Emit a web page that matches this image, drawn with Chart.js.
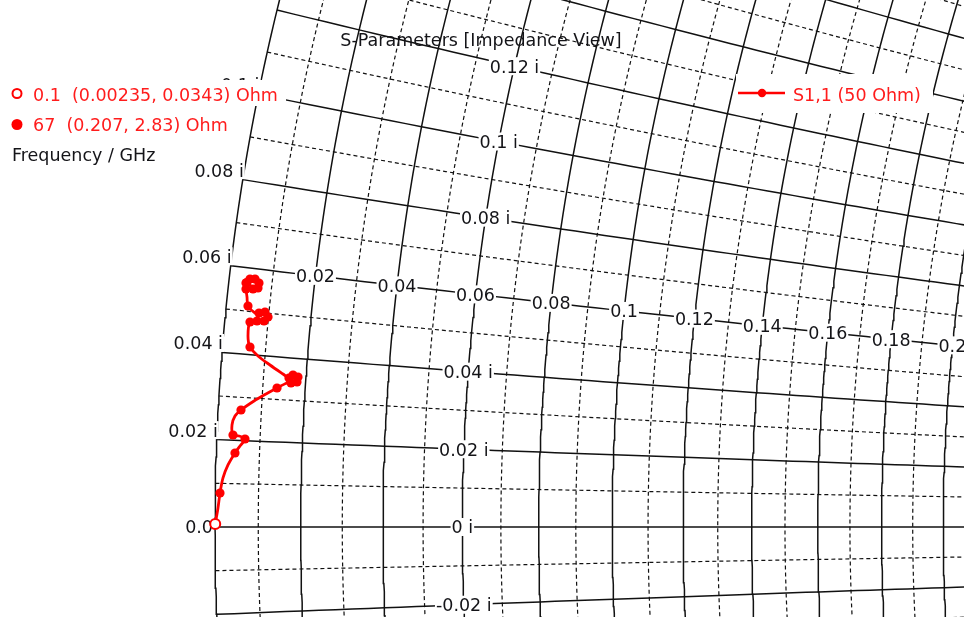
<!DOCTYPE html>
<html>
<head>
<meta charset="utf-8">
<script src="https://cdn.jsdelivr.net/npm/chart.js@4.4.1/dist/chart.umd.min.js"></script>
<style>
  html, body { margin: 0; padding: 0; background: #fff; }
</style>
</head>
<body>
<canvas id="smith" width="964" height="617"></canvas>
<script>
// visible window of the reflection coefficient plane (zoomed on the short circuit point)
const gammaReMin = -1.0984, gammaReMax = -0.6572
const gammaImMin = -0.0412, gammaImMax = 0.2412

// Smith grid, normalised to 50 Ohm
const resistanceMajor = [0, 0.02, 0.04, 0.06, 0.08, 0.1, 0.12, 0.14, 0.16, 0.18, 0.2]
const resistanceMinor = [0.01, 0.03, 0.05, 0.07, 0.09, 0.11, 0.13, 0.15, 0.17, 0.19]
const reactanceMajor = [-0.04, -0.02, 0, 0.02, 0.04, 0.06, 0.08, 0.1, 0.12, 0.14, 0.16, 0.18, 0.2]
const reactanceMinor = [-0.03, -0.01, 0.01, 0.03, 0.05, 0.07, 0.09, 0.11, 0.13, 0.15, 0.17, 0.19]

// labels: resistance values sit on the x = 0.06 arc, reactance values on the r = 0.06 circle
const resistanceLabels = [0.02, 0.04, 0.06, 0.08, 0.1, 0.12, 0.14, 0.16, 0.18, 0.2]
const reactanceLabels = [-0.02, 0, 0.02, 0.04, 0.08, 0.1, 0.12]
const edgeLabels = [0, 0.02, 0.04, 0.06, 0.08, 0.1]
const labelArc = 0.06

// S1,1 trace (reflection coefficient, real / imaginary), 0.1 .. 67 GHz
const s11Re = [-0.99990, -0.99863, -0.99771, -0.99634, -0.99405, -0.99085, -0.98856, -0.98627, -0.98902, -0.99176,
  -0.99222, -0.99085, -0.98810, -0.98215, -0.97666, -0.97162, -0.96705, -0.96522, -0.96247, -0.96201,
  -0.96430, -0.96613, -0.96888, -0.97483, -0.98032, -0.98398, -0.98490, -0.98398, -0.98078, -0.97757,
  -0.97574, -0.97712, -0.97986, -0.98169, -0.98490, -0.98535, -0.98581, -0.98581, -0.98398, -0.98169,
  -0.97986, -0.98032, -0.98261, -0.98398, -0.98545]
const s11Im = [0.00137, 0.00870, 0.01556, 0.02243, 0.02838, 0.03387, 0.03707, 0.04027, 0.04165, 0.04211,
  0.04668, 0.05080, 0.05355, 0.05767, 0.06087, 0.06362, 0.06590, 0.06590, 0.06636, 0.06865,
  0.06957, 0.06819, 0.07002, 0.07414, 0.07826, 0.08238, 0.08742, 0.09382, 0.09428, 0.09428,
  0.09611, 0.09840, 0.09794, 0.09794, 0.10115, 0.10526, 0.10893, 0.11167, 0.11350, 0.11350,
  0.11167, 0.10938, 0.10893, 0.11076, 0.11191]
// samples that carry a round marker
const markerIdx = [2, 5, 7, 9, 12, 15, 17, 18, 19, 20, 21, 25, 27, 28, 29, 30, 31, 32, 34, 36, 37, 38, 39, 40, 41, 42, 44]

const startLabel = '0.1  (0.00235, 0.0343) Ohm'
const endLabel = '67  (0.207, 2.83) Ohm'
const xUnit = 'Frequency / GHz'
const seriesName = 'S1,1 (50 Ohm)'
const chartTitle = 'S-Parameters [Impedance View]'

const FONT = '17.5px "DejaVu Sans", Verdana, sans-serif'
const INK = '#141418'
const RED = '#ff0000'
const GRID = '#111111'

function gamma(r, x) {
  const d = (r + 1) * (r + 1) + x * x
  return { x: (r * r + x * x - 1) / d, y: 2 * x / d }
}

function resistanceCircle(r) {
  const pts = []
  for (let t = -0.1; t <= 0.32; t += 0.002) pts.push(gamma(r, t))
  return pts
}

function reactanceArc(x) {
  const pts = []
  for (let t = 0; t <= 0.4; t += 0.004) pts.push(gamma(t, x))
  return pts
}

// Chart.js paints higher "order" first, so the grid gets the highest one
function gridSet(points, major) {
  return {
    data: points,
    order: 10,
    showLine: true,
    pointRadius: 0,
    borderColor: GRID,
    borderWidth: major ? 1.5 : 1.2,
    borderDash: major ? [] : [4, 3],
    tension: 0
  }
}

const datasets = []
resistanceMajor.forEach(r => datasets.push(gridSet(resistanceCircle(r), true)))
resistanceMinor.forEach(r => datasets.push(gridSet(resistanceCircle(r), false)))
reactanceMajor.forEach(x => datasets.push(gridSet(reactanceArc(x), true)))
reactanceMinor.forEach(x => datasets.push(gridSet(reactanceArc(x), false)))
const traceIndex = datasets.length

datasets.push({
  data: s11Re.map((re, i) => ({ x: re, y: s11Im[i] })),
  order: 3,
  showLine: true,
  pointRadius: 0,
  borderColor: RED,
  borderWidth: 2.8,
  tension: 0.3
})
datasets.push({
  data: markerIdx.map(i => ({ x: s11Re[i], y: s11Im[i] })),
  order: 2,
  showLine: false,
  pointRadius: 4.6,
  pointBackgroundColor: RED,
  pointBorderColor: RED,
  pointBorderWidth: 0
})
datasets.push({
  data: [{ x: s11Re[0], y: s11Im[0] }],
  order: 1,
  showLine: false,
  pointRadius: 5,
  pointBackgroundColor: '#fff',
  pointBorderColor: RED,
  pointBorderWidth: 2
})

function fmt(v) {
  return String(+v.toFixed(2))
}

// text with a white box behind it; (cx, cy) is the centre of the digits
function tag(ctx, text, cx, cy, color) {
  ctx.font = FONT
  const w = ctx.measureText(text).width
  ctx.fillStyle = '#fff'
  ctx.fillRect(cx - w / 2 - 1, cy - 9, w + 2, 18)
  ctx.fillStyle = color || INK
  ctx.textAlign = 'left'
  ctx.textBaseline = 'alphabetic'
  ctx.fillText(text, cx - w / 2, cy + 6.4)
}

const smithLabels = {
  id: 'smithLabels',
  // grid is done by now, the trace comes next
  beforeDatasetDraw(chart, args) {
    if (args.index !== traceIndex) return
    const ctx = chart.ctx
    const xs = chart.scales.x, ys = chart.scales.y
    ctx.save()
    ctx.font = FONT
    resistanceLabels.forEach(r => {
      const g = gamma(r, labelArc)
      tag(ctx, fmt(r), xs.getPixelForValue(g.x), ys.getPixelForValue(g.y))
    })
    reactanceLabels.forEach(x => {
      const g = gamma(labelArc, x)
      tag(ctx, fmt(x) + ' i', xs.getPixelForValue(g.x), ys.getPixelForValue(g.y))
    })
    edgeLabels.forEach(x => {
      const g = gamma(0, x)
      const px = xs.getPixelForValue(g.x), py = ys.getPixelForValue(g.y)
      const text = x === 0 ? '0.0' : fmt(x) + ' i'
      const w = ctx.measureText(text).width
      if (x === 0) tag(ctx, text, px - 2 - w / 2, py)
      else tag(ctx, text, px + 1 - w / 2, py - 9.5)
    })
    ctx.restore()
  },
  afterDraw(chart) {
    const ctx = chart.ctx
    ctx.save()
    ctx.font = FONT
    ctx.textBaseline = 'alphabetic'
    ctx.textAlign = 'center'
    ctx.fillStyle = INK
    ctx.fillText(chartTitle, 481, 46.4)

    // marker read-outs, top left
    ctx.fillStyle = '#fff'
    ctx.fillRect(0, 80, 286, 26)
    ctx.textAlign = 'left'
    ctx.fillStyle = '#ff1c1c'
    ctx.fillText(startLabel, 33, 101.4)
    ctx.fillText(endLabel, 33, 130.8)
    ctx.fillStyle = INK
    ctx.fillText(xUnit, 12, 161.4)
    ctx.beginPath()
    ctx.arc(17, 93.5, 4.5, 0, Math.PI * 2)
    ctx.fillStyle = '#fff'
    ctx.fill()
    ctx.lineWidth = 2
    ctx.strokeStyle = RED
    ctx.stroke()
    ctx.beginPath()
    ctx.arc(17, 124.5, 5.5, 0, Math.PI * 2)
    ctx.fillStyle = RED
    ctx.fill()

    // series legend, top right
    ctx.fillStyle = '#fff'
    ctx.fillRect(736, 74, 197, 39)
    ctx.strokeStyle = RED
    ctx.lineWidth = 2.5
    ctx.beginPath()
    ctx.moveTo(738, 93)
    ctx.lineTo(785, 93)
    ctx.stroke()
    ctx.beginPath()
    ctx.arc(762, 93, 4.2, 0, Math.PI * 2)
    ctx.fillStyle = RED
    ctx.fill()
    ctx.fillStyle = '#ff1c1c'
    ctx.fillText(seriesName, 793, 101.4)
    ctx.restore()
  }
}

new Chart(document.getElementById('smith'), {
  type: 'scatter',
  data: { datasets },
  options: {
    responsive: false,
    animation: false,
    devicePixelRatio: 1,
    events: [],
    layout: { padding: 0, autoPadding: false },
    scales: {
      x: { type: 'linear', min: gammaReMin, max: gammaReMax, display: false },
      y: { type: 'linear', min: gammaImMin, max: gammaImMax, display: false }
    },
    plugins: {
      legend: { display: false },
      tooltip: { enabled: false },
      title: { display: false }
    }
  },
  plugins: [smithLabels]
})
</script>
</body>
</html>
